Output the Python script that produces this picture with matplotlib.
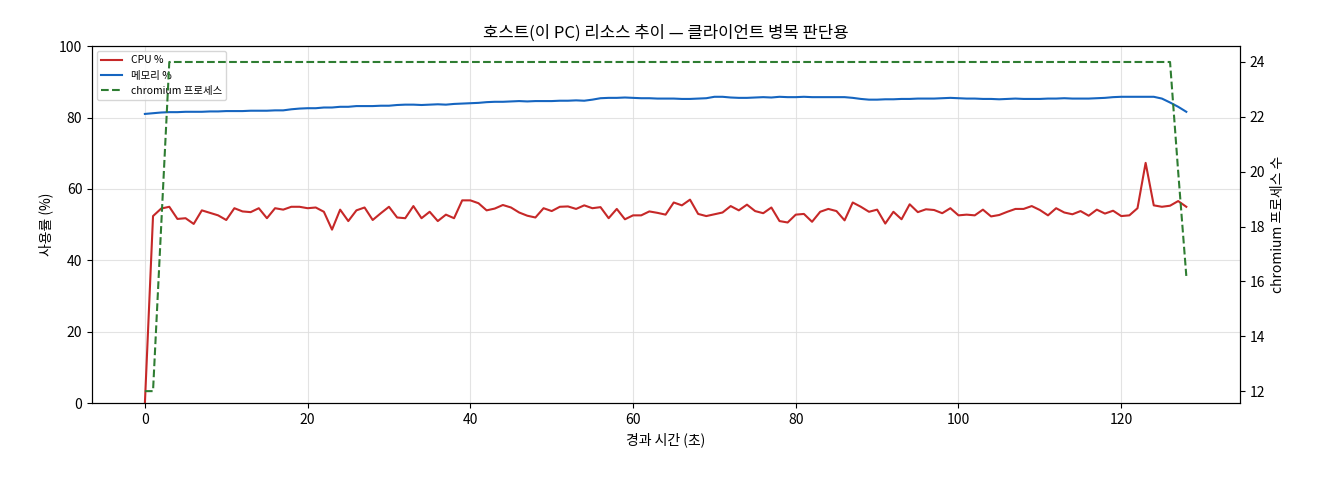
import numpy as np
import matplotlib
matplotlib.use("Agg")
import matplotlib.pyplot as plt

plt.rcParams['font.family'] = ['Noto Sans CJK KR', 'DejaVu Sans']

cpu = [0, 52.4, 54.5, 55, 51.6, 51.8, 50.2, 54, 53.3, 52.6, 51.3, 54.6, 53.7, 53.5, 54.6, 51.8,
       54.6, 54.2, 55, 55, 54.6, 54.8, 53.6, 48.6, 54.2, 51, 54, 54.8, 51.3, 53.2, 55, 52,
       51.8, 55.2, 51.8, 53.6, 51, 52.8, 51.8, 56.8, 56.8, 56, 54, 54.5, 55.5, 54.8, 53.4,
       52.5, 52, 54.6, 53.8, 55, 55.1, 54.4, 55.4, 54.6, 54.9, 51.8, 54.4, 51.5, 52.6, 52.6,
       53.7, 53.3, 52.8, 56.2, 55.4, 57, 53, 52.4, 52.9, 53.4, 55.2, 54, 55.6, 53.8, 53.2,
       54.8, 51, 50.6, 52.8, 53, 50.8, 53.6, 54.4, 53.8, 51.2, 56.2, 55, 53.6, 54.2, 50.3,
       53.6, 51.5, 55.7, 53.5, 54.3, 54.1, 53.2, 54.6, 52.6, 52.8, 52.6, 54.2, 52.3, 52.7,
       53.6, 54.4, 54.4, 55.2, 54.1, 52.6, 54.6, 53.4, 52.9, 53.8, 52.5, 54.2, 53.1, 53.9,
       52.4, 52.6, 54.6, 67.3, 55.4, 55, 55.3, 56.6, 55]
mem = [81.0, 81.2, 81.4, 81.5, 81.5, 81.6, 81.6, 81.6, 81.7, 81.7, 81.8, 81.8, 81.8, 81.9,
       81.9, 81.9, 82.0, 82.0, 82.3, 82.5, 82.6, 82.6, 82.8, 82.8, 83.0, 83.0, 83.2, 83.2,
       83.2, 83.3, 83.3, 83.5, 83.6, 83.6, 83.5, 83.6, 83.7, 83.6, 83.8, 83.9, 84.0, 84.1,
       84.3, 84.4, 84.4, 84.5, 84.6, 84.5, 84.6, 84.6, 84.6, 84.7, 84.7, 84.8, 84.7, 85.0,
       85.4, 85.5, 85.5, 85.6, 85.5, 85.4, 85.4, 85.3, 85.3, 85.3, 85.2, 85.2, 85.3, 85.4,
       85.8, 85.8, 85.6, 85.5, 85.5, 85.6, 85.7, 85.6, 85.8, 85.7, 85.7, 85.8, 85.7, 85.7,
       85.7, 85.7, 85.7, 85.5, 85.2, 85.0, 85.0, 85.1, 85.1, 85.2, 85.2, 85.3, 85.3, 85.3,
       85.4, 85.5, 85.4, 85.3, 85.3, 85.2, 85.2, 85.1, 85.2, 85.3, 85.2, 85.2, 85.2, 85.3,
       85.3, 85.4, 85.3, 85.3, 85.3, 85.4, 85.5, 85.7, 85.8, 85.8, 85.8, 85.8, 85.8, 85.3,
       84.2, 83.0, 81.6]
chromium = [12, 12, 18] + [24] * 124 + [20, 16.2]
t = np.arange(len(cpu))

fig = plt.figure(figsize=(13.2, 4.8), dpi=100)
ax = fig.add_axes([0.0697, 0.160, 0.8697, 0.744])
ax2 = ax.twinx()
l1, = ax.plot(t, cpu, color='#c62828', lw=1.5, label='CPU %')
l2, = ax.plot(t, mem, color='#1565c0', lw=1.5, label='메모리 %')
l3, = ax2.plot(t, chromium, color='#2e7d32', lw=1.5, ls='--', label='chromium 프로세스')
ax.set_ylim(0, 100)
ax.set_xlim(-6.5, 134.6)
ax2.set_ylim(11.56, 24.58)
ax.grid(True, color='#dddddd', lw=0.8, alpha=0.8)
ax.set_xlabel('경과 시간 (초)', fontsize=10)
ax.set_ylabel('사용률 (%)', fontsize=10)
ax2.set_ylabel('chromium 프로세스 수', fontsize=10)
ax.set_title('호스트(이 PC) 리소스 추이 — 클라이언트 병목 판단용', fontsize=12)
ax.tick_params(labelsize=10)
ax2.tick_params(labelsize=10)
ax.legend(handles=[l1, l2, l3], loc='upper left', fontsize=7.5)
fig.savefig('out.png', dpi=100)
